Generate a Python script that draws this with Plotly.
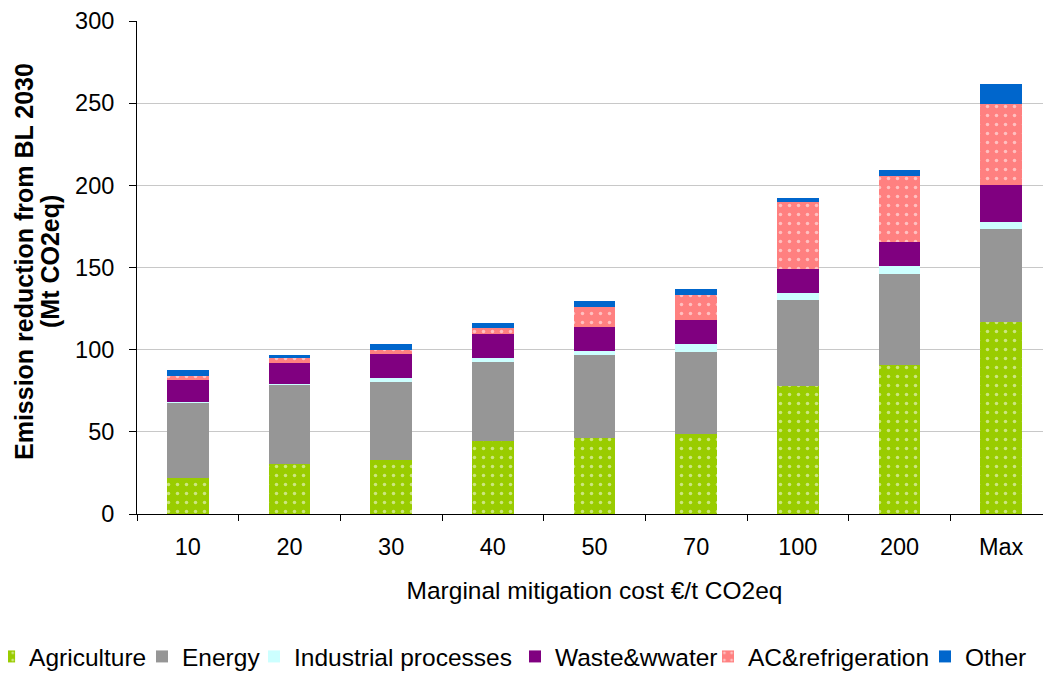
import plotly.graph_objects as go

categories = ["10", "20", "30", "40", "50", "70", "100", "200", "Max"]
agriculture = [22.0, 30.3, 32.7, 44.4, 46.5, 48.7, 77.8, 90.5, 116.6]
energy = [45.9, 48.5, 47.9, 48.3, 50.5, 50.1, 52.5, 55.6, 56.7]
industrial = [0.3, 0.3, 2.4, 2.4, 2.4, 4.8, 4.2, 4.8, 4.3]
waste = [13.6, 13.0, 14.6, 14.6, 14.6, 14.6, 14.6, 14.6, 22.4]
ac_refrig = [2.4, 2.6, 2.4, 3.2, 12.1, 15.3, 40.6, 40.2, 49.7]
other = [3.7, 2.3, 3.6, 3.5, 3.6, 3.5, 2.4, 3.4, 12.1]

series_names = ["Agriculture", "Energy", "Industrial processes",
                "Waste&wwater", "AC&refrigeration", "Other"]
series_values = [agriculture, energy, industrial, waste, ac_refrig, other]
series_colors = ["#99CC00", "#969696", "#CCFFFF", "#800080", "#FF8080", "#0066CC"]
series_dotted = [True, False, False, False, True, False]

y_title_lines = ["<b>Emission reduction from BL 2030</b>", "<b>(Mt CO2eq)</b>"]
x_title = "Marginal mitigation cost €/t CO2eq"

W, H = 1051, 675
ML, MR, MT, MB = 129, 7, 13, 169
plot_w = W - ML - MR
plot_h = H - MT - MB

# legend entry left positions (pixels, figure coords)
legend_left_px = [-19, 134, 246, 507, 700, 917]
legend_center_y_px = 648.5

fig = go.Figure()
legend_layouts = {}
for i, (name, vals, color, dotted) in enumerate(
        zip(series_names, series_values, series_colors, series_dotted)):
    marker = dict(color=color, line=dict(width=0))
    if dotted:
        marker["pattern"] = dict(shape=".", fgcolor="white", bgcolor=color,
                                 size=9, solidity=0.12, fillmode="overlay")
    lname = "legend" if i == 0 else f"legend{i + 1}"
    fig.add_trace(go.Bar(name=name, x=categories, y=vals, marker=marker,
                         legend=lname, showlegend=True))
    lay = dict(
        orientation="h",
        y=(MT + plot_h - legend_center_y_px) / plot_h, yanchor="middle",
        font=dict(size=24.5), itemwidth=30, bgcolor="rgba(0,0,0,0)",
    )
    if legend_left_px[i] < 0:
        est_width = 40 + 4.779 * 24.5 + 6
        lay.update(x=(legend_left_px[i] + est_width - ML) / plot_w, xanchor="right")
    else:
        lay.update(x=(legend_left_px[i] - ML) / plot_w, xanchor="left")
    legend_layouts[lname] = lay

font_family = "Liberation Sans, Arial, sans-serif"
fig.update_layout(
    showlegend=True,
    barmode="stack",
    bargap=0.59,
    width=W, height=H,
    margin=dict(l=ML, r=MR, t=MT, b=MB, autoexpand=False),
    paper_bgcolor="white", plot_bgcolor="white",
    font=dict(family=font_family, size=23.5, color="black"),
    xaxis=dict(
        title=dict(text=x_title, standoff=22, font=dict(size=24.5)),
        showline=True, linecolor="black", linewidth=1,
        ticks="outside", tickson="boundaries", ticklen=6, tickcolor="black",
        tickfont=dict(size=23.5), ticklabelstandoff=12, showgrid=False,
    ),
    yaxis=dict(
        range=[0, 300], dtick=50,
        showline=True, linecolor="black", linewidth=1,
        ticks="outside", ticklen=7, tickcolor="black",
        tickfont=dict(size=23.5), ticklabelstandoff=10,
        ticklabeloverflow="allow",
        showgrid=True, gridcolor="#C8C8C8", gridwidth=1,
        zeroline=False,
    ),
    **legend_layouts,
)

# two-line bold y-axis title (tight line spacing as in the original)
for txt, px in zip(y_title_lines, [16, 42]):
    fig.add_annotation(
        text=txt, textangle=-90, showarrow=False,
        xref="paper", yref="paper",
        x=(px - ML) / plot_w, y=(MT + plot_h - 254) / plot_h,
        xanchor="center", yanchor="middle",
        font=dict(size=25, family=font_family, color="black"),
    )

fig.write_html("out.html")
